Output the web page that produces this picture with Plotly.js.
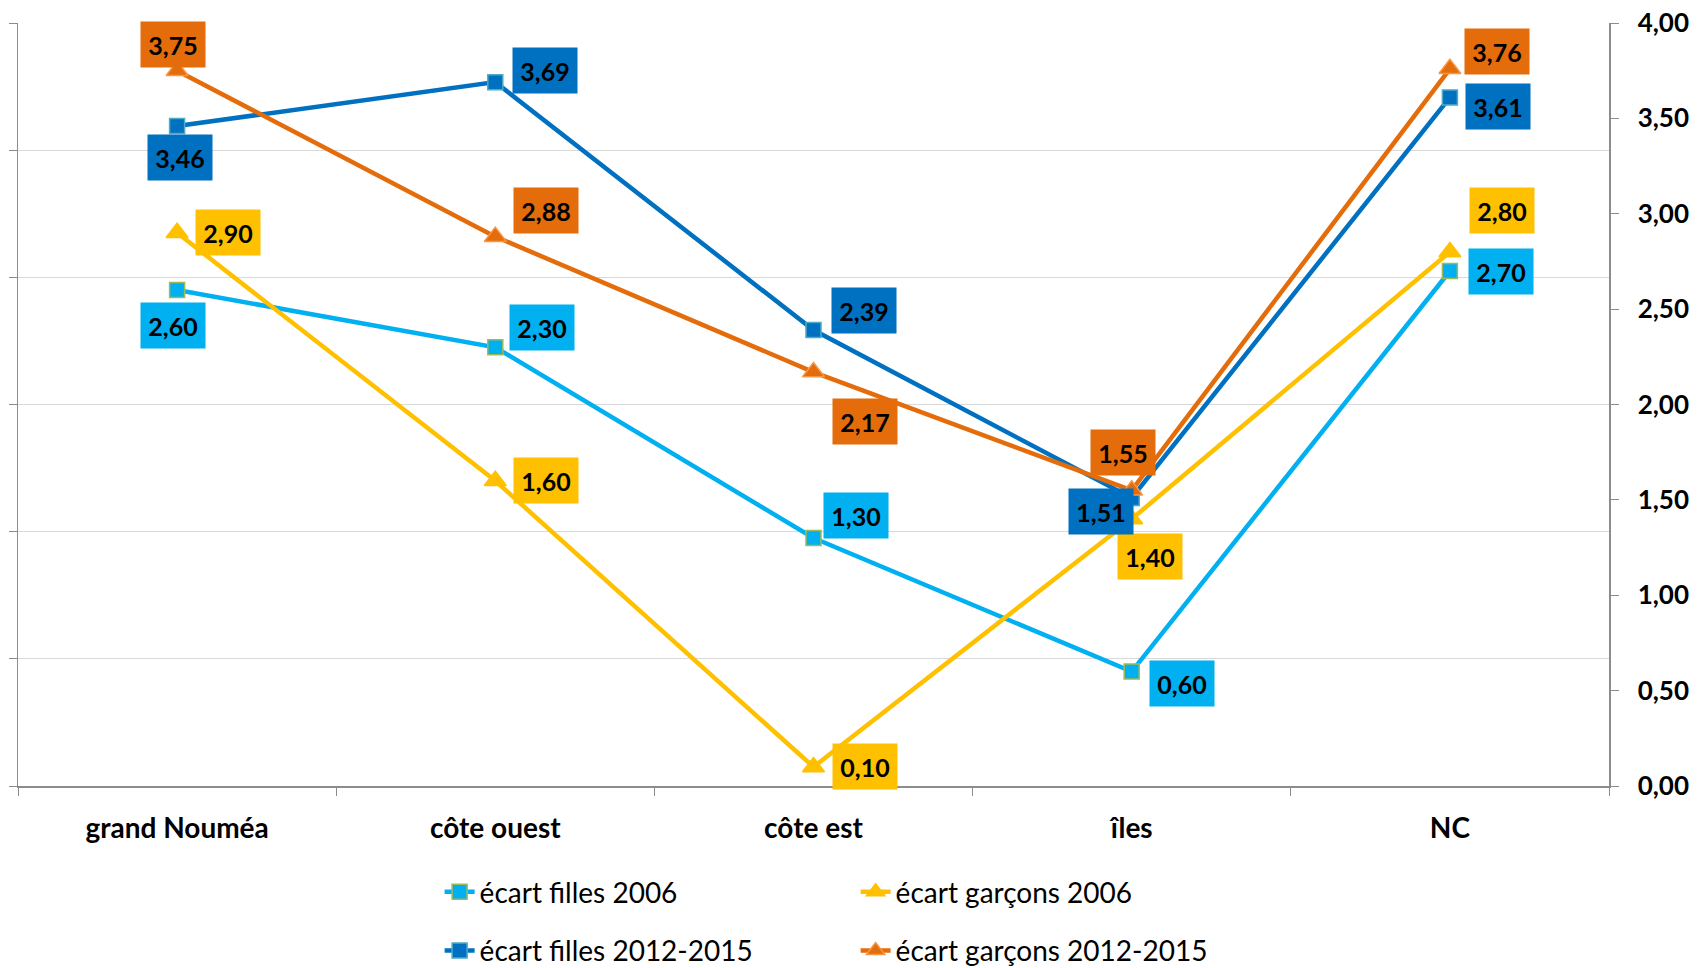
<!DOCTYPE html>
<html>
<head>
<meta charset="utf-8">
<script src="https://cdn.plot.ly/plotly-3.0.1.min.js"></script>
<style>
  html, body { margin: 0; padding: 0; background: #ffffff; }
  #chart { width: 1700px; height: 968px; }
</style>
</head>
<body>
<div id="chart"></div>
<script>
// ------------------------------------------------------------------------------
// DATA

const categories = ['grand Nouméa', 'côte ouest', 'côte est', 'îles', 'NC'];

const filles_2006   = [2.60, 2.30, 1.30, 0.60, 2.70];
const garcons_2006  = [2.90, 1.60, 0.10, 1.40, 2.80];
const filles_2012   = [3.46, 3.69, 2.39, 1.51, 3.61];
const garcons_2012  = [3.75, 2.88, 2.17, 1.55, 3.76];

// ------------------------------------------------------------------------------
// STYLE

const font_family = 'Lato, "Open Sans", Arial, sans-serif';
const axis_grey   = '#8c8c8c';
const grid_grey   = '#d9d9d9';

// label offsets (px) from each point, by category
const series = [
    {
        name: 'écart filles 2006', values: filles_2006, legend: 'legend',
        color: '#00b0f0', symbol: 'square', size: 15, border: '#9bbb59',
        dx: [-4, 47, 42, 50, 51], dy: [35, -20, -23, 12, 1]
    },
    {
        name: 'écart garçons 2006', values: garcons_2006, legend: 'legend',
        color: '#ffc000', symbol: 'triangle-up', size: 19, border: '#ffc000',
        dx: [51, 51, 51, 18, 52], dy: [0, 0, 0, 38, -41]
    },
    {
        name: 'écart filles 2012-2015', values: filles_2012, legend: 'legend2',
        color: '#0070c0', symbol: 'square', size: 15, border: '#4bacc6',
        dx: [3, 50, 50, -31, 48], dy: [31, -12, -20, 14, 9]
    },
    {
        name: 'écart garçons 2012-2015', values: garcons_2012, legend: 'legend2',
        color: '#e46c0a', symbol: 'triangle-up', size: 19, border: '#f79646',
        dx: [-4, 51, 51, -9, 47], dy: [-26, -26, 49, -38, -17]
    }
];

function fmt(v) {
    return v.toFixed(2).replace('.', ',');
}

// ------------------------------------------------------------------------------
// TRACES + LABELS

const traces = [];
const annotations = [];

for (const s of series) {
    traces.push({
        type: 'scatter',
        mode: 'lines+markers',
        name: s.name,
        x: categories,
        y: s.values,
        xaxis: 'x',
        yaxis: 'y2',
        legend: s.legend,
        line: { color: s.color, width: 4.5 },
        marker: {
            symbol: s.symbol,
            size: s.size,
            color: s.color,
            line: { color: s.border, width: 1.5 }
        },
        hoverinfo: 'none'
    });
}

for (const s of series) {
    for (let i = 0; i < categories.length; i++) {
        annotations.push({
            x: categories[i],
            y: s.values[i],
            xref: 'x',
            yref: 'y2',
            text: '<b>' + fmt(s.values[i]) + '</b>',
            showarrow: false,
            xshift: s.dx[i],
            yshift: -s.dy[i],
            width: 52,
            height: 33,
            bgcolor: s.color,
            borderpad: 6,
            font: { family: font_family, size: 25, color: '#000000' }
        });
    }
}

// dummy trace so the left axis is drawn
traces.push({
    type: 'scatter', x: categories, y: [null, null, null, null, null],
    xaxis: 'x', yaxis: 'y', showlegend: false, hoverinfo: 'none'
});

// ------------------------------------------------------------------------------
// LAYOUT

const legend_common = {
    orientation: 'h',
    xanchor: 'left',
    yanchor: 'middle',
    x: 0.265,
    entrywidth: 371,
    bgcolor: 'rgba(0,0,0,0)',
    font: { family: font_family, size: 28, color: '#000000' }
};

const layout = {
    width: 1700,
    height: 968,
    paper_bgcolor: '#ffffff',
    plot_bgcolor: '#ffffff',
    separators: ', ',
    margin: { l: 18, r: 91, t: 23, b: 182, autoexpand: false },
    font: { family: font_family, color: '#000000' },
    showlegend: true,
    legend:  Object.assign({}, legend_common, { y: -0.139 }),
    legend2: Object.assign({}, legend_common, { y: -0.216 }),
    xaxis: {
        type: 'category',
        range: [-0.5, 4.5],
        tickson: 'boundaries',
        ticks: 'outside',
        ticklen: 8,
        tickcolor: axis_grey,
        ticklabelstandoff: 17,
        showline: true,
        linecolor: axis_grey,
        linewidth: 1.5,
        showgrid: false,
        zeroline: false,
        tickfont: { family: font_family, size: 28, color: '#000000', weight: 'bold' }
    },
    yaxis: {
        range: [0, 6],
        dtick: 1,
        showticklabels: false,
        ticks: 'outside',
        ticklen: 8,
        tickcolor: axis_grey,
        showline: true,
        linecolor: axis_grey,
        linewidth: 1.5,
        showgrid: true,
        gridcolor: grid_grey,
        gridwidth: 1.2,
        zeroline: false
    },
    yaxis2: {
        overlaying: 'y',
        side: 'right',
        range: [0, 4],
        dtick: 0.5,
        tickformat: '.2f',
        ticks: 'outside',
        ticklen: 8,
        tickcolor: axis_grey,
        ticklabelstandoff: 14,
        showline: true,
        linecolor: axis_grey,
        linewidth: 1.5,
        showgrid: false,
        zeroline: false,
        tickfont: { family: font_family, size: 26, color: '#000000', weight: 'bold' }
    },
    annotations: annotations
};

Plotly.newPlot('chart', traces, layout, { displayModeBar: false, staticPlot: true });
</script>
</body>
</html>
